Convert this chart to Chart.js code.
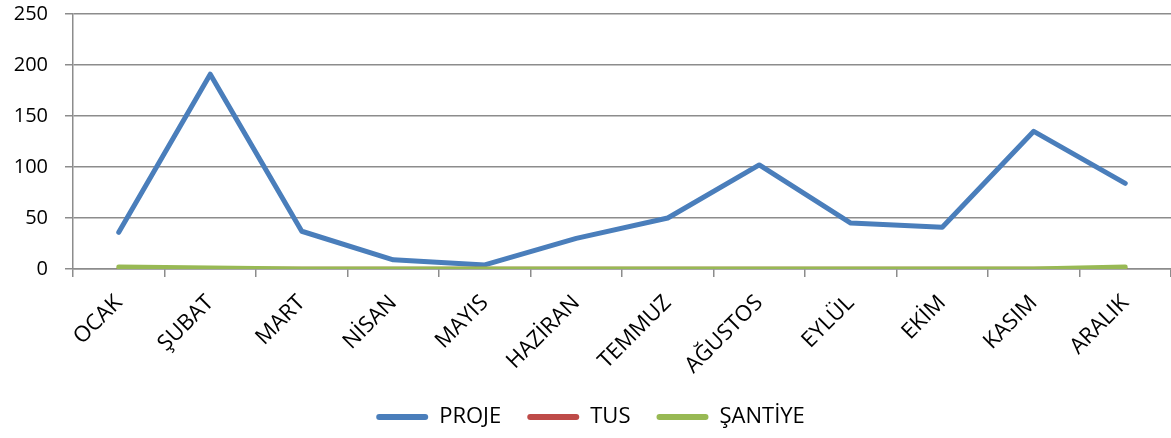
<!DOCTYPE html>
<html>
<head>
<meta charset="utf-8">
<script src="https://cdn.jsdelivr.net/npm/chart.js@4/dist/chart.umd.min.js"></script>
<style>
  html, body { margin: 0; padding: 0; background: #fff; }
  #wrap { width: 1171px; height: 438px; position: relative; }
</style>
</head>
<body>
<div id="wrap"><canvas id="chart"></canvas></div>
<script>
// month labels and series values
const months = ['OCAK', 'ŞUBAT', 'MART', 'NİSAN', 'MAYIS', 'HAZİRAN', 'TEMMUZ', 'AĞUSTOS', 'EYLÜL', 'EKİM', 'KASIM', 'ARALIK'];
const proje = [36, 191, 37, 9, 4, 30, 50, 102, 45, 41, 135, 84];
const tus = [0, 0, 0, 0, 0, 0, 0, 0, 0, 0, 0, 0];
const santiye = [2, 1, 0, 0, 0, 0, 0, 0, 0, 0, 0, 2];
const yTicks = [0, 50, 100, 150, 200, 250];

const FONT = { family: '"Open Sans", sans-serif', size: 22 };
const GRID = '#8c8c8c';

function lineSet(label, data, color, width, order) {
    return {
        label, data, order,
        borderColor: color,
        backgroundColor: color,
        borderWidth: width,
        pointRadius: 0,
        borderCapStyle: 'round',
        borderJoinStyle: 'round',
        tension: 0
    };
}

new Chart(document.getElementById('chart'), {
    type: 'line',
    data: {
        labels: months,
        datasets: [
            lineSet('PROJE', proje, '#4a7ebb', 5, 2),
            lineSet('TUS', tus, '#be4b48', 4.5, 1),
            lineSet('ŞANTİYE', santiye, '#98b954', 5, 0)
        ]
    },
    options: {
        responsive: true,
        maintainAspectRatio: false,
        animation: false,
        layout: { padding: { top: 14, left: 10, right: 0, bottom: 0 } },
        plugins: {
            tooltip: { enabled: false },
            legend: {
                position: 'bottom',
                labels: {
                    font: FONT,
                    color: '#000',
                    boxWidth: 52,
                    boxHeight: 6,
                    padding: 26,
                    useBorderRadius: true,
                    borderRadius: 3,
                    sort: (a, b) => a.datasetIndex - b.datasetIndex,
                    generateLabels: chart => Chart.defaults.plugins.legend.labels.generateLabels(chart)
                        .map(l => ({ ...l, fillStyle: l.strokeStyle, lineWidth: 0 }))
                }
            }
        },
        scales: {
            x: {
                offset: true,
                afterFit: s => { s.paddingLeft = 0; s.paddingRight = 0; s.height = 111; },
                grid: { offset: true, drawOnChartArea: false, drawTicks: true, tickLength: 8, color: GRID, lineWidth: 1.5 },
                border: { color: GRID, width: 1.5 },
                ticks: { font: FONT, color: '#000', maxRotation: 45, minRotation: 45, autoSkip: false, padding: 13 }
            },
            y: {
                min: 0,
                max: 250,
                afterBuildTicks: axis => { axis.ticks = yTicks.map(v => ({ value: v })); },
                afterFit: s => { s.paddingTop = 0; s.paddingBottom = 0; s.width = 63; },
                grid: { color: GRID, lineWidth: 1.5, tickLength: 8 },
                border: { color: GRID, width: 1.5 },
                ticks: { font: { family: FONT.family, size: 20 }, color: '#000', padding: 17 }
            }
        }
    }
});
</script>
</body>
</html>
